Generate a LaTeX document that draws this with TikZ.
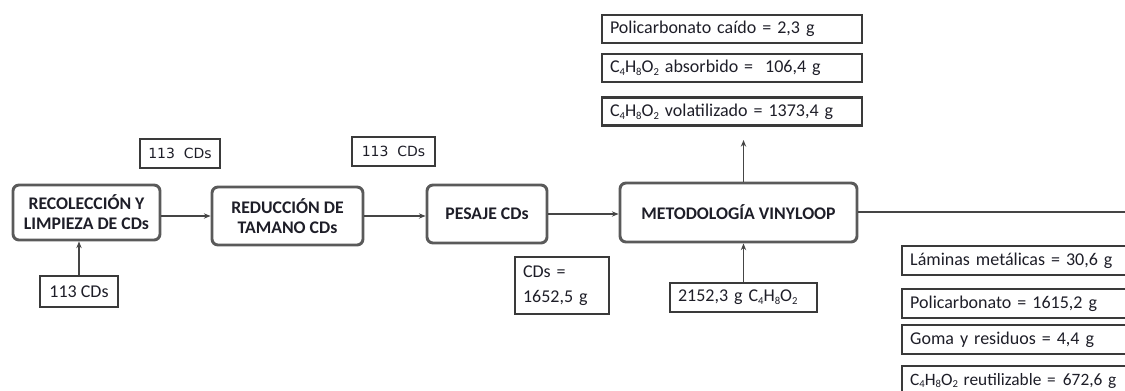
\documentclass[tikz,border=0pt]{standalone}
\usepackage{fontspec}
\setmainfont{Carlito}
\newfontfamily\vfont{DejaVu Sans}
\usetikzlibrary{arrows.meta}

\definecolor{procgray}{HTML}{5A5A5A}
\definecolor{lblgray}{HTML}{3A3A3A}
\definecolor{linegray}{HTML}{454545}
\definecolor{txt}{HTML}{1E1E28}

% small lowered digits for the chemical formula
\newcommand{\lowsub}[1]{\raisebox{-0.35ex}{\fontsize{8}{8}\selectfont #1}}
\newcommand{\acet}{C\lowsub{4}H\lowsub{8}O\lowsub{2}}

\begin{document}
\begin{tikzpicture}[x=0.75pt,y=-0.75pt,
  proc/.style={draw=procgray, line width=2.2pt, rounded corners=4.5pt, fill=white,
    font=\bfseries\fontsize{13.3}{15}\selectfont, align=center, inner sep=0pt, text=txt},
  lbl/.style={draw=lblgray, line width=1.8pt, fill=white, inner xsep=6pt, inner ysep=0pt,
    font=\fontsize{13.5}{15}\selectfont, align=left, text=txt},
  side/.style={lbl, anchor=west, text width=200pt, minimum height=21.75pt},
  cnt/.style={draw=lblgray, line width=1.8pt, fill=white, inner sep=0pt,
    font=\vfont\fontsize{10.5}{12}\selectfont, text=txt},
  flow/.style={draw=linegray, line width=1pt, -{Stealth[length=5pt,width=4pt]}},
  plain/.style={draw=linegray, line width=1pt}]

\useasboundingbox (0,0) rectangle (1125,390);
\clip (0,0) rectangle (1125,390);

% outputs above the Vinyloop stage
\node[lbl, text width=183pt, minimum height=21pt] (p1) at (732,29) {Policarbonato caído = 2,3 g};
\node[lbl, text width=183pt, minimum height=21pt] (p2) at (732,68) {\acet{} absorbido =\ \ 106,4 g};
\node[lbl, text width=183pt, minimum height=21pt] (p3) at (732,111.5) {\acet{} volatilizado = 1373,4 g};

% counts between stages
\node[cnt, minimum width=60pt, minimum height=21.75pt] (cA) at (180,153.5) {113\ \ CDs};
\node[cnt, minimum width=62.25pt, minimum height=21.75pt] (cB) at (393.5,151.5) {113\ \ CDs};

% process stages
\node[proc, minimum width=110.25pt, minimum height=41.25pt] (rec) at (86.5,212.5) {RECOLECCIÓN Y\\LIMPIEZA DE CDs};
\node[proc, minimum width=113.25pt, minimum height=43.5pt] (red) at (287.5,216) {REDUCCIÓN DE\\TAMANO CDs};
\node[proc, minimum width=90pt, minimum height=43.5pt] (pes) at (487,214) {PESAJE CDs};
\node[proc, minimum width=177.75pt, minimum height=44.25pt] (vin) at (738.5,212.5) {METODOLOGÍA VINYLOOP};

% inputs
\node[lbl, inner xsep=0pt, align=center, minimum width=58.5pt, minimum height=23.25pt] (c113) at (79,291.5) {113 CDs};
\node[lbl, text width=58.5pt, minimum height=42.75pt, font=\fontsize{13.5}{19}\selectfont] (cds) at (562,285.5) {CDs =\\1652,5 g};
\node[lbl, text width=98.25pt, minimum height=21.75pt] (eth) at (743.5,297.5) {2152,3 g \acet};

% outputs to the right (running past the right edge)
\node[side] (lam) at (901,260.5) {Láminas metálicas = 30,6 g};
\node[side] (pol) at (901,303.5) {Policarbonato = 1615,2 g};
\node[side] (gom) at (901,339.5) {Goma y residuos = 4,4 g};
\node[side, font=\fontsize{13}{15}\selectfont] (reu) at (901,380.5) {\acet{} reutilizable = \kern1pt 672,6 g};

\coordinate (up) at (743.5,140);
\coordinate (out) at (1125,212);

% connectors
\draw[flow] (c113.north) -- (c113.north |- rec.south);
\draw[flow] (rec.east |- red.west) -- (red.west);
\draw[flow] (red.east) -- (red.east -| pes.west);
\draw[flow] (pes.east) -- (pes.east -| vin.west);
\draw[flow] (vin.north -| up) -- (up);
\draw[flow] (eth.north) -- (eth.north |- vin.south);
\draw[plain] (vin.east |- out) -- (out);

\end{tikzpicture}
\end{document}
